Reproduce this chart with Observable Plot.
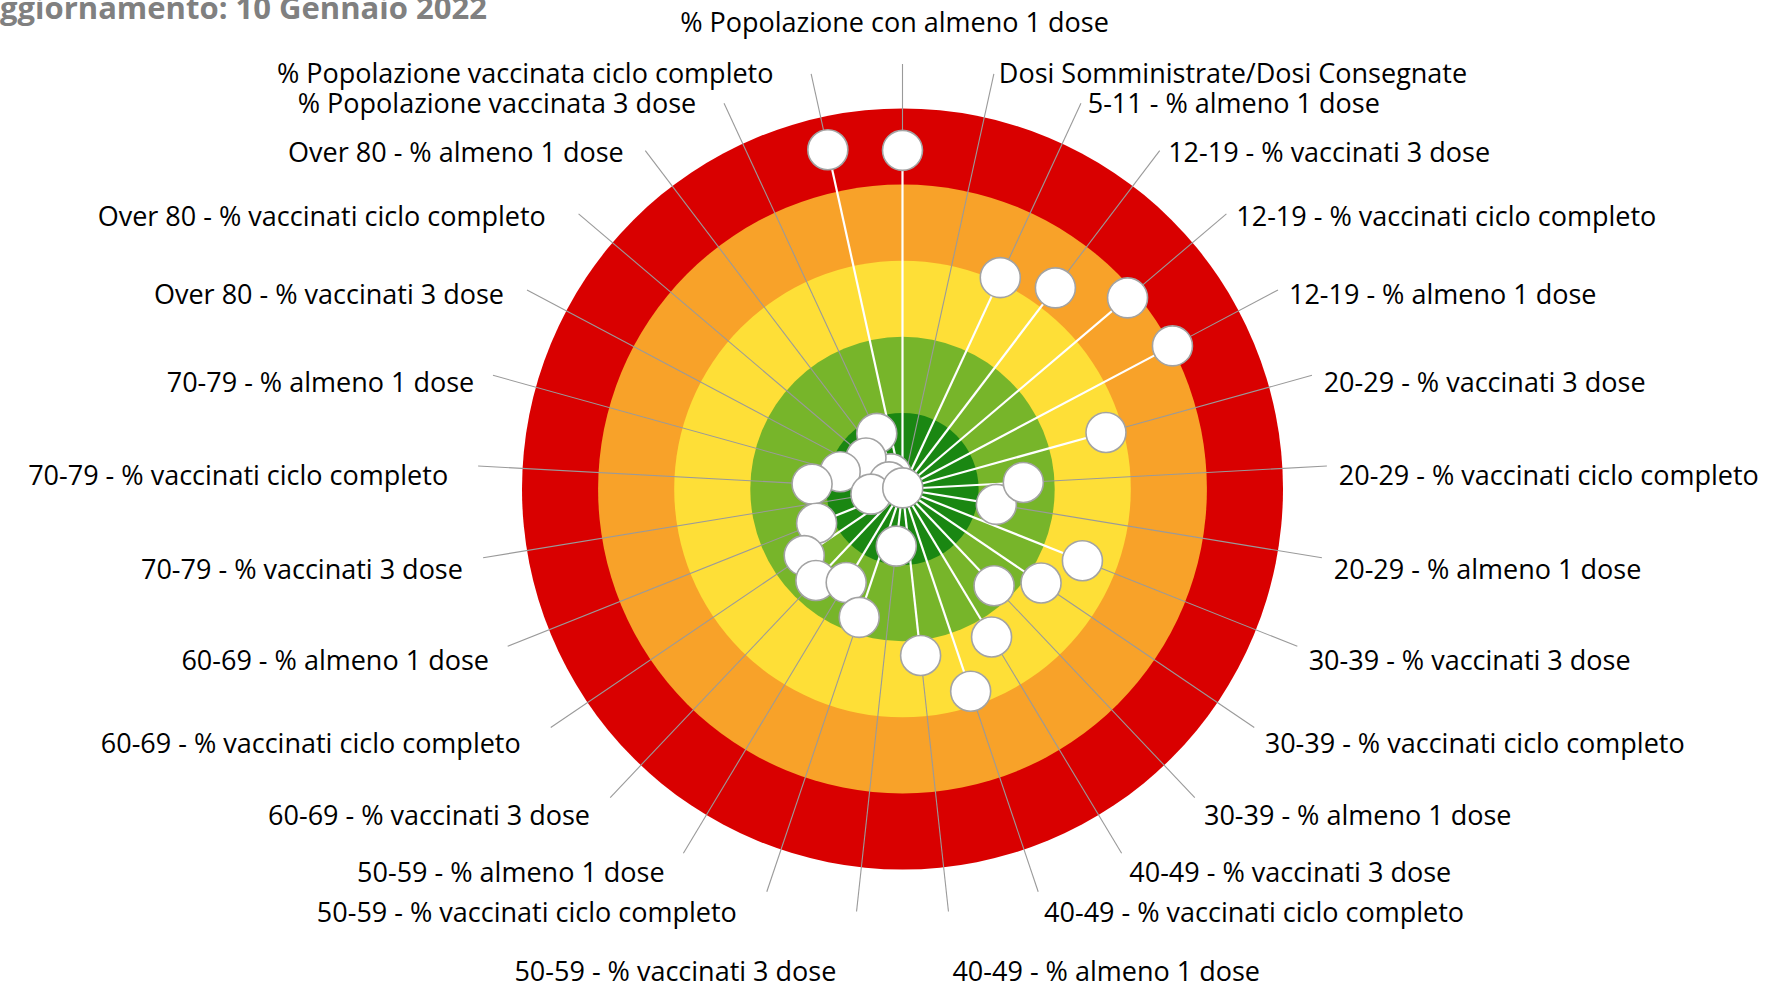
<!DOCTYPE html>
<html>
<head>
<meta charset="utf-8">
<script src="https://cdn.jsdelivr.net/npm/d3@7"></script>
<script src="https://cdn.jsdelivr.net/npm/@observablehq/plot@0.6"></script>
<style>
  html, body { margin: 0; padding: 0; background: #fff; overflow: hidden; width: 1767px; height: 987px; }
  #chart { position: relative; width: 1767px; height: 987px; }
</style>
</head>
<body>
<div id="chart"></div>
<script>
// ---------------- DATA ----------------
const titleText = "Aggiornamento: 10 Gennaio 2022";

const categories = [
  "% Popolazione con almeno 1 dose",
  "Dosi Somministrate/Dosi Consegnate",
  "5-11 - % almeno 1 dose",
  "12-19 - % vaccinati 3 dose",
  "12-19 - % vaccinati ciclo completo",
  "12-19 - % almeno 1 dose",
  "20-29 - % vaccinati 3 dose",
  "20-29 - % vaccinati ciclo completo",
  "20-29 - % almeno 1 dose",
  "30-39 - % vaccinati 3 dose",
  "30-39 - % vaccinati ciclo completo",
  "30-39 - % almeno 1 dose",
  "40-49 - % vaccinati 3 dose",
  "40-49 - % vaccinati ciclo completo",
  "40-49 - % almeno 1 dose",
  "50-59 - % vaccinati 3 dose",
  "50-59 - % vaccinati ciclo completo",
  "50-59 - % almeno 1 dose",
  "60-69 - % vaccinati 3 dose",
  "60-69 - % vaccinati ciclo completo",
  "60-69 - % almeno 1 dose",
  "70-79 - % vaccinati 3 dose",
  "70-79 - % vaccinati ciclo completo",
  "70-79 - % almeno 1 dose",
  "Over 80 - % vaccinati 3 dose",
  "Over 80 - % vaccinati ciclo completo",
  "Over 80 - % almeno 1 dose",
  "% Popolazione vaccinata 3 dose",
  "% Popolazione vaccinata ciclo completo"
];

// radial value (0 = centre, 100 = outer edge of the red ring)
const values = [
  89.0, 0.3, 61.2, 66.4, 77.6, 80.3, 55.5, 31.8, 25.0, 50.9,
  44.0, 35.0, 45.4, 56.1, 44.0, 15.1, 35.6, 28.7, 33.1, 31.2,
  24.3, 8.4, 23.8, 17.0, 4.0, 12.6, 5.0, 16.1, 91.3
];

const bandLimits = [100, 80, 60, 40, 20];
const bandColors = ["#d90000", "#f8a229", "#fedf37", "#77b52a", "#1a8712"];

// ---------------- LAYOUT ----------------
const W = 1767, H = 987;
const cx = 902, cy = 488.5;     // centre in px
const Rpx = 380.5;              // radius of value 100 in px
const k = Rpx / 100;            // px per unit
const leaderPx = 425;           // leader line end radius, px
const fontSize = 27;
const titleSize = 31;
const fontFamily = '"Open Sans", "Noto Sans", sans-serif';

const n = categories.length;
const ctx = document.createElement("canvas").getContext("2d");
ctx.font = `${fontSize}px "Open Sans"`;

const rows = categories.map((cat, i) => {
  const a = i * 2 * Math.PI / n;
  const s = Math.sin(a), c = Math.cos(a);
  const v = values[i];
  const ex = cx + leaderPx * s, ey = cy - leaderPx * c;
  const w = ctx.measureText(cat).width;
  let lx, ly, side;
  if (i === 0) {
    side = "middle"; lx = ex - 8; ly = ey - 41;
  } else if (s > 0) {
    side = "start"; lx = ex + 3 + 9 * Math.abs(s); ly = ey + 11 * (1 - c);
  } else {
    side = "end";
    const gap = Math.max(12, Math.min(38, 20 + 0.1 * (w - 320)));
    lx = ex - gap; ly = ey + 11 * (1 - c);
  }
  if (i === 14 || i === 15) ly = ey + 61;
  return {
    cat, i, v,
    x: v * s, y: v * c,
    lxEnd: (ex - cx) / k, lyEnd: (cy - ey) / k,
    lx: (lx - cx) / k, ly: (cy - ly) / k,
    side
  };
});

const bands = bandLimits.map((limit, j) => ({limit, color: bandColors[j]}));

const marks = [];
bands.forEach(b => {
  marks.push(Plot.dot([b], {x: () => 0, y: () => 0, r: "limit", fill: b.color, stroke: null}));
});
// grey leader lines from the marker to the label
marks.push(Plot.link(rows, {x1: "x", y1: "y", x2: "lxEnd", y2: "lyEnd", stroke: "#9a9a9a", strokeWidth: 1.1}));
// white spokes from the centre to the marker
marks.push(Plot.link(rows, {x1: () => 0, y1: () => 0, x2: "x", y2: "y", stroke: "#ffffff", strokeWidth: 2.2}));
// markers (drawn last-first so earlier categories are on top)
marks.push(Plot.dot(rows.slice().reverse(), {x: "x", y: "y", r: 20, fill: "#ffffff", stroke: "#a3a3a3", strokeWidth: 1.6}));
// labels
["start", "end", "middle"].forEach(side => {
  marks.push(Plot.text(rows.filter(d => d.side === side), {
    x: "lx", y: "ly", text: "cat", textAnchor: side,
    fontSize, fill: "#000000", fontFamily
  }));
});

const chart = Plot.plot({
  width: W, height: H, margin: 0,
  style: {background: "#ffffff", fontFamily, overflow: "hidden"},
  x: {domain: [-cx / k, (W - cx) / k], range: [0, W], axis: null},
  y: {domain: [-(H - cy) / k, cy / k], range: [H, 0], axis: null},
  r: {type: "linear", domain: [0, 100], range: [0, Rpx]},
  marks
});
document.getElementById("chart").appendChild(chart);

// title, partially cut at the top-left corner as in the reference
const tctx = document.createElement("canvas").getContext("2d");
tctx.font = `bold ${titleSize}px "Open Sans"`;
const aW = tctx.measureText("A").width;
d3.select(chart).append("text")
  .attr("x", -aW).attr("y", 19)
  .attr("text-anchor", "start")
  .attr("font-family", fontFamily).attr("font-weight", "bold").attr("font-size", titleSize)
  .attr("fill", "#808080")
  .text(titleText);
</script>
</body>
</html>
